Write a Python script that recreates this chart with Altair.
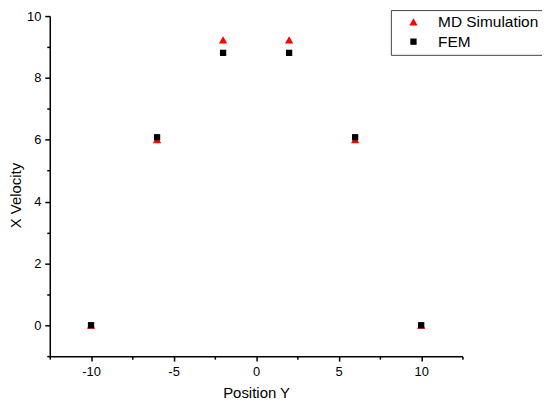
import altair as alt
import pandas as pd

positions = [-10, -6, -2, 2, 6, 10]
md_values = [0.0, 6.0, 9.23, 9.23, 6.0, 0.0]
fem_values = [0.0, 6.08, 8.81, 8.81, 6.08, 0.0]
series_names = ["MD Simulation", "FEM"]

rows = []
for p, v in zip(positions, md_values):
    rows.append({"pos": p, "vel": v, "series": series_names[0]})
for p, v in zip(positions, fem_values):
    rows.append({"pos": p, "vel": v, "series": series_names[1]})
df = pd.DataFrame(rows)
df["order"] = range(len(df))

x_ticks = [-12.5, -10, -7.5, -5, -2.5, 0, 2.5, 5, 7.5, 10, 12.5]
y_ticks = [-1, 0, 1, 2, 3, 4, 5, 6, 7, 8, 9, 10]

FONT = "Liberation Sans"

def make_legend():
    return alt.Legend(title=None, orient="none", legendX=343, legendY=-6,
                      symbolSize=55, symbolOffset=11, labelOffset=17,
                      labelFontSize=15.5, labelFont=FONT, labelColor="black",
                      padding=4, rowPadding=3,
                      strokeColor="#444", fillColor="white")

chart = alt.Chart(df).mark_point(filled=True, opacity=1).encode(
    x=alt.X("pos:Q", title="Position Y",
            scale=alt.Scale(domain=[-12.5, 12.5], nice=False, zero=False),
            axis=alt.Axis(values=x_ticks, grid=False,
                          labelExpr="datum.value % 5 === 0 ? replace(datum.label, '\u2212', '-') : ''",
                          tickSize={"expr": "datum.value % 5 === 0 ? 5 : 3"})),
    y=alt.Y("vel:Q", title="X Velocity",
            scale=alt.Scale(domain=[-1, 10], nice=False, zero=False),
            axis=alt.Axis(values=y_ticks, grid=False,
                          labelExpr="datum.value % 2 === 0 ? datum.label : ''",
                          tickSize={"expr": "datum.value % 2 === 0 ? 5 : 3"},
                          titleX=-26, titleY=180)),
    color=alt.Color("series:N",
                    scale=alt.Scale(domain=series_names, range=["#ff0000", "#000000"]),
                    legend=make_legend()),
    shape=alt.Shape("series:N",
                    scale=alt.Scale(domain=series_names, range=["triangle-up", "square"]),
                    legend=make_legend()),
    size=alt.Size("series:N",
                  scale=alt.Scale(domain=series_names, range=[70, 40]),
                  legend=None),
    order=alt.Order("order:Q"),
).properties(
    width=415, height=342,
    autosize=alt.AutoSizeParams(type="none"),
    padding={"left": 42, "top": 7, "right": 80, "bottom": 45},
).configure_axis(
    domainColor="black", domainWidth=1.5, tickColor="black", tickWidth=1.5,
    labelFont=FONT, labelFontSize=13, labelColor="black", labelPadding=4,
    titleFont=FONT, titleFontSize=15, titleFontWeight="normal", titleColor="black",
).configure_axisX(titlePadding=8).configure_axisY(titlePadding=2).configure_view(
    stroke=None
)

chart.save("out.html", embed_options={"renderer": "svg", "actions": False})
